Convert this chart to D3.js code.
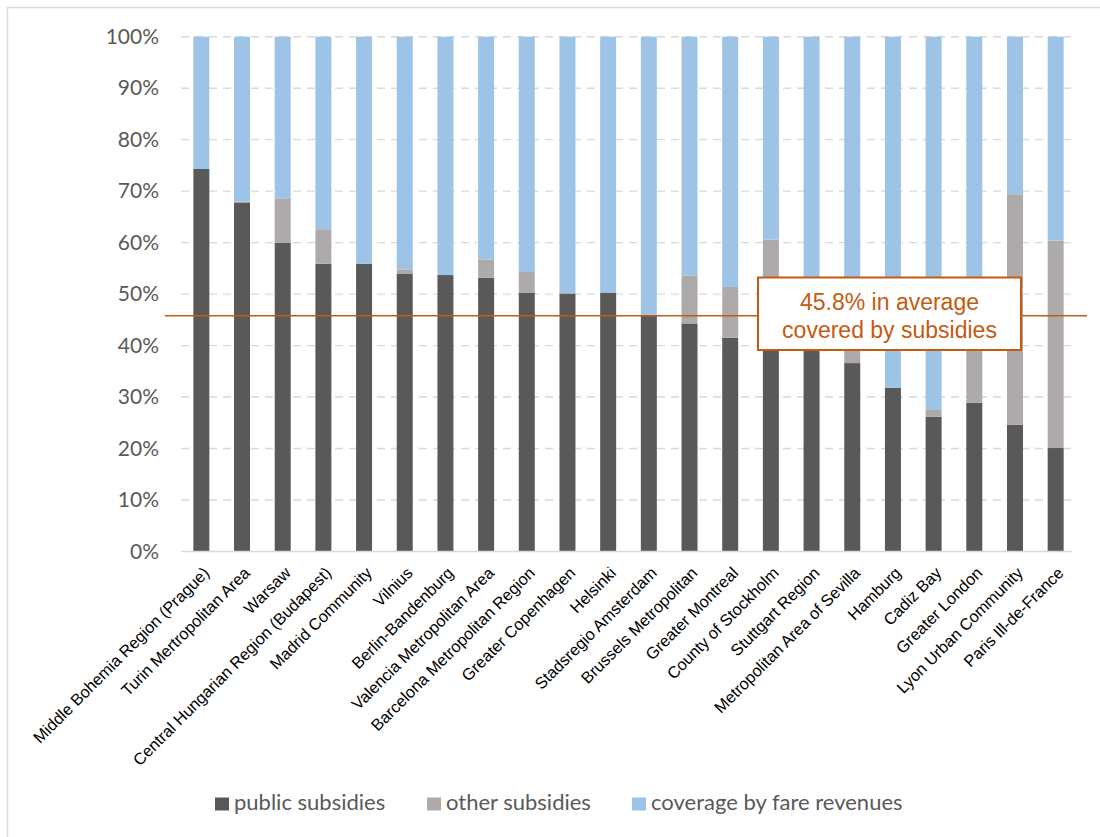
<!DOCTYPE html>
<html>
<head>
<meta charset="utf-8">
<script src="https://cdn.jsdelivr.net/npm/d3@7"></script>
<style>
  html, body { margin: 0; padding: 0; background: #fff; }
  svg { display: block; }
</style>
</head>
<body>
<svg id="chart" width="1100" height="837"></svg>
<script>
// Authorities, ordered by share of costs covered by public subsidies
const categories = [
  "Middle Bohemia Region (Prague)", "Turin Mertropolitan Area", "Warsaw",
  "Central Hungarian Region (Budapest)", "Madrid Community", "Vilnius",
  "Berlin-Bandenburg", "Valencia Metropolitan Area", "Barcelona Metropolitan Region",
  "Greater Copenhagen", "Helsinki", "Stadsregio Amsterdam", "Brussels Metropolitan",
  "Greater Montreal", "County of Stockholm", "Stuttgart Region",
  "Metropolitan Area of Sevilla", "Hamburg", "Cadiz Bay", "Greater London",
  "Lyon Urban Community", "Paris Ill-de-France"
];

// Shares in percent
const publicSubsidies = [74.3, 67.8, 60.0, 55.9, 55.9, 54.0, 53.7, 53.2, 50.3, 50.1, 50.3,
                         46.0, 44.3, 41.5, 40.0, 42.0, 36.6, 31.8, 26.2, 28.9, 24.6, 20.1];
const otherSubsidies  = [0.0, 0.2, 8.6, 6.7, 0.0, 0.8, 0.0, 3.5, 4.0, 0.1, 0.0,
                         0.0, 9.3, 9.9, 20.6, 0.0, 7.4, 0.0, 1.3, 18.1, 44.8, 40.3];
const fareRevenues = publicSubsidies.map((p, i) => 100 - p - otherSubsidies[i]);

const seriesNames = ["public subsidies", "other subsidies", "coverage by fare revenues"];
const seriesColors = ["#595959", "#AEAAAA", "#9DC3E6"];
const yTicks = [0, 10, 20, 30, 40, 50, 60, 70, 80, 90, 100];
const averageSubsidy = 45.8;
const averageLabel = ["45.8% in average", "covered by subsidies"];

const rows = categories.map((c, i) => ({
  name: c,
  "public subsidies": publicSubsidies[i],
  "other subsidies": otherSubsidies[i],
  "coverage by fare revenues": fareRevenues[i]
}));

const svg = d3.select("#chart");

// outer frame
svg.append("rect")
  .attr("x", 7.5).attr("y", 7.5)
  .attr("width", 1110).attr("height", 850)
  .attr("fill", "#fff").attr("stroke", "#D9D9D9").attr("stroke-width", 1.5);

const x = d3.scaleBand().domain(categories).range([181, 1076])
  .paddingInner(0.607).paddingOuter(0.3035);
const y = d3.scaleLinear().domain([0, 100]).range([551.5, 36.7]);

// gridlines
svg.append("g")
  .selectAll("line")
  .data(yTicks.filter(t => t > 0))
  .join("line")
  .attr("x1", 181).attr("x2", 1072)
  .attr("y1", d => y(d)).attr("y2", d => y(d))
  .attr("stroke", "#D9D9D9").attr("stroke-width", 1.4)
  .attr("stroke-dasharray", "8,6");

// y axis labels
const yAxis = d3.axisLeft(y).tickValues(yTicks).tickFormat(d => d + "%").tickSize(0).tickPadding(0);
const yG = svg.append("g").attr("transform", "translate(159,0)").call(yAxis);
yG.select(".domain").remove();
yG.selectAll("text")
  .attr("fill", "#595959")
  .style("font-family", "Lato, 'Open Sans', sans-serif")
  .style("font-size", "21px");

// stacked bars
const stack = d3.stack().keys(seriesNames)(rows);
svg.append("g")
  .selectAll("g")
  .data(stack)
  .join("g")
  .attr("fill", (d, i) => seriesColors[i])
  .selectAll("rect")
  .data(d => d)
  .join("rect")
  .attr("x", d => x(d.data.name))
  .attr("width", x.bandwidth())
  .attr("y", d => y(d[1]))
  .attr("height", d => y(d[0]) - y(d[1]));

// baseline
svg.append("line")
  .attr("x1", 181).attr("x2", 1072)
  .attr("y1", y(0)).attr("y2", y(0))
  .attr("stroke", "#D9D9D9").attr("stroke-width", 1.4);

// category labels
svg.append("g")
  .selectAll("text")
  .data(categories)
  .join("text")
  .attr("transform", d => `translate(${x(d) + x.bandwidth() / 2 + 9},574) rotate(-45)`)
  .attr("text-anchor", "end")
  .attr("fill", "#000")
  .style("font-family", "'Liberation Sans', Arial, sans-serif")
  .style("font-size", "16.3px")
  .text(d => d);

// average line
svg.append("line")
  .attr("x1", 165).attr("x2", 1087)
  .attr("y1", y(averageSubsidy)).attr("y2", y(averageSubsidy))
  .attr("stroke", "#C55A11").attr("stroke-width", 1.5);

// callout
const box = svg.append("g");
box.append("rect")
  .attr("x", 758).attr("y", 277.5)
  .attr("width", 263).attr("height", 72.5)
  .attr("fill", "#fff").attr("stroke", "#C55A11").attr("stroke-width", 2);
box.selectAll("text")
  .data(averageLabel)
  .join("text")
  .attr("x", 889.5)
  .attr("y", (d, i) => 310 + i * 27.5)
  .attr("text-anchor", "middle")
  .attr("fill", "#C55A11")
  .style("font-family", "'Liberation Sans', Arial, sans-serif")
  .style("font-size", "23px")
  .text(d => d);

// legend
const legendX = [215, 427, 632];
const legend = svg.append("g")
  .selectAll("g")
  .data(seriesNames)
  .join("g")
  .attr("transform", (d, i) => `translate(${legendX[i]},0)`);
legend.append("rect")
  .attr("x", 0).attr("y", 797.5)
  .attr("width", 14).attr("height", 13)
  .attr("fill", (d, i) => seriesColors[i]);
legend.append("text")
  .attr("x", 19).attr("y", 810)
  .attr("fill", "#595959")
  .style("font-family", "Lato, 'Open Sans', sans-serif")
  .style("font-size", "22px")
  .text(d => d);
</script>
</body>
</html>
